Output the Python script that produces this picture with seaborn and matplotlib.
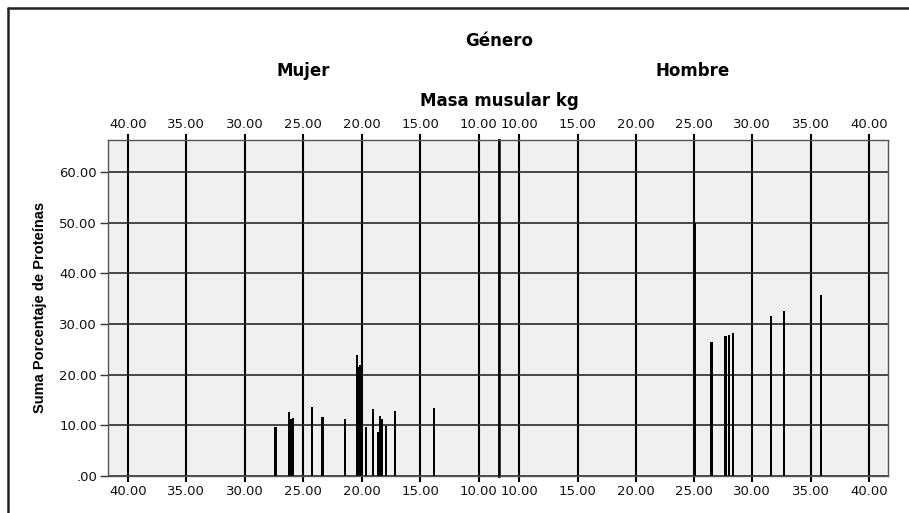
import numpy as np
import pandas as pd
import matplotlib
matplotlib.use("Agg")
import matplotlib.pyplot as plt
from matplotlib.lines import Line2D
from matplotlib.ticker import FuncFormatter
import seaborn as sns

# values
mujer_masa = [27.37, 26.2, 26.03, 25.9, 24.23, 23.35, 21.43, 20.37, 20.27, 20.18,
              20.09, 19.63, 19.03, 18.57, 18.43, 18.26, 17.94, 17.14, 13.83]
mujer_prot = [9.6, 12.7, 11.2, 11.5, 13.7, 11.7, 11.2, 23.8, 21.0, 21.5,
              21.9, 9.6, 13.2, 8.6, 11.9, 11.2, 9.9, 12.8, 13.5]
hombre_masa = [25.09, 26.49, 27.69, 27.97, 28.37, 29.94, 31.6, 32.69, 35.91]
hombre_prot = [50.0, 26.4, 27.6, 27.9, 28.3, 29.8, 31.5, 32.6, 35.8]

x_ticks = [40, 35, 30, 25, 20, 15, 10]
y_ticks = [0, 10, 20, 30, 40, 50, 60]

df_m = pd.DataFrame({"masa": mujer_masa, "prot": mujer_prot})
df_h = pd.DataFrame({"masa": hombre_masa, "prot": hombre_prot})

sns.set_style("white")
plt.rcParams["font.family"] = ["DejaVu Sans"]
plt.rcParams["text.color"] = "black"

fig = plt.figure(figsize=(9.09, 5.13), dpi=100)
W, H = 909, 513
x0, xm, x1 = 108 / W, 499 / W, 888 / W
y0, y1 = 1 - 476 / H, 1 - 139.5 / H
ax_m = fig.add_axes([x0, y0, xm - x0, y1 - y0])
ax_h = fig.add_axes([xm, y0, x1 - xm, y1 - y0], sharey=ax_m)

bar_w = 0.19
for ax, df in [(ax_m, df_m), (ax_h, df_h)]:
    native = np.min(np.diff(np.unique(df.masa)))
    sns.barplot(data=df, x="masa", y="prot", native_scale=True, estimator="sum",
                errorbar=None, color="black", width=bar_w / native,
                linewidth=0, saturation=1, ax=ax)
    ax.set_facecolor("#f0f0f0")
    ax.set_axisbelow(True)
    ax.grid(axis="x", color="black", lw=1.5)
    ax.grid(axis="y", color="#2a2a2a", lw=1.2)
    ax.set_xticks(x_ticks)
    ax.xaxis.set_major_formatter(FuncFormatter(lambda v, _: f"{v:.2f}"))
    ax.tick_params(axis="x", top=True, labeltop=True, bottom=True, labelbottom=True,
                   length=4.5, width=1.5, color="black", pad=1.8, labelsize=9.5,
                   labelcolor="#111111")
    ax.set_xlabel("")
    ax.set_ylabel("")
    for s in ax.spines.values():
        s.set_color("#555555")
        s.set_linewidth(1)

ax_m.set_xlim(41.7, 8.25)
ax_h.set_xlim(8.25, 41.65)
ax_m.set_ylim(0, 66.4)
ax_m.set_yticks(y_ticks)
ax_m.yaxis.set_major_formatter(FuncFormatter(lambda v, _: f"{v:.2f}" if v else ".00"))
ax_m.tick_params(axis="y", left=True, length=5.8, width=1, color="#333333",
                 pad=2, labelsize=9.5, labelcolor="#111111")
ax_h.tick_params(axis="y", left=False, labelleft=False)
ax_m.spines["right"].set_color("black")
ax_m.spines["right"].set_linewidth(1.8)
ax_h.spines["left"].set_color("black")
ax_h.spines["left"].set_linewidth(1.8)

# titles
fig.text(499 / W, 1 - 41 / H, "Género", ha="center", va="center",
         fontsize=12, fontweight="bold")
fig.text(303 / W, 1 - 71 / H, "Mujer", ha="center", va="center",
         fontsize=12, fontweight="bold")
fig.text(693 / W, 1 - 71 / H, "Hombre", ha="center", va="center",
         fontsize=12, fontweight="bold")
fig.text(499 / W, 1 - 101 / H, "Masa musular kg", ha="center", va="center",
         fontsize=12, fontweight="bold")
fig.text(40 / W, 1 - 307 / H, "Suma Porcentaje de Proteínas", rotation=90,
         ha="center", va="center", fontsize=10.5, fontweight="bold",
         family=["Liberation Sans", "DejaVu Sans"])

# outer chart frame (top and left edges visible)
fig.add_artist(Line2D([8 / W, 1], [1 - 8 / H, 1 - 8 / H], transform=fig.transFigure,
                      color="#222222", lw=1.8))
fig.add_artist(Line2D([8 / W, 8 / W], [0, 1 - 8 / H], transform=fig.transFigure,
                      color="#222222", lw=1.8))

fig.savefig("out.png", dpi=100)
